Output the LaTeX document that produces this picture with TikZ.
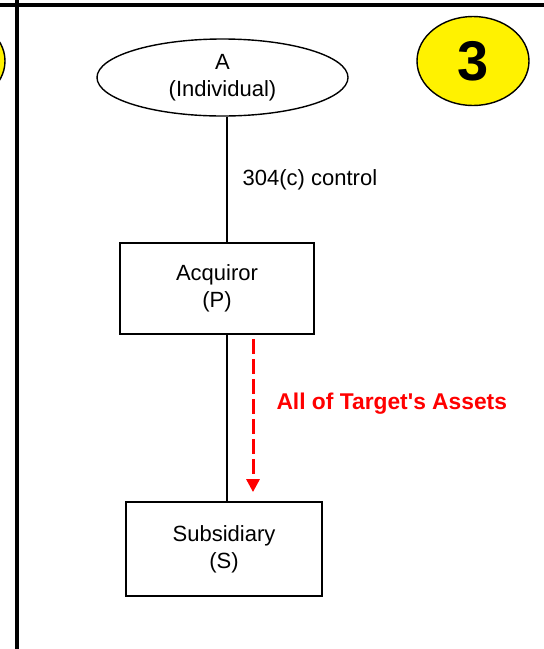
\documentclass[tikz,border=0pt]{standalone}
\usepackage{fontspec}
\setmainfont{Liberation Sans}
\usetikzlibrary{shapes.geometric, arrows.meta}

\begin{document}
\begin{tikzpicture}[
  x=0.5pt, y=-0.5pt,
  txt/.style={font=\fontsize{11}{13.5}\selectfont},
  ent/.style={draw, line width=0.9pt, inner sep=0pt, align=center, txt},
  indiv/.style={ellipse, draw, line width=0.7pt, minimum width=125.5pt,
                minimum height=38.5pt, inner sep=0pt, align=center, txt},
  badge/.style={ellipse, draw, fill=yellow, line width=0.7pt, minimum width=56pt,
                minimum height=44.5pt, inner sep=0pt,
                font=\bfseries\fontsize{28}{30}\selectfont},
  frame/.style={line width=2pt},
  link/.style={line width=0.7pt},
  asset/.style={-{Triangle[length=6.5pt, width=6.5pt]}, red, line width=1.5pt,
                dash pattern=on 7.5pt off 2.5pt}
]
  \useasboundingbox (0,0) rectangle (544,649);

  % panel frame
  \draw[frame] (0,5) -- (544,5);
  \draw[frame] (17,0) -- (17,649);

  \node[badge] (prevbadge) at (-51,61) {};
  \node[badge] (badge)     at (473,61) {3};

  \node[indiv] (owner) at (222.5,77.5) {A\\(Individual)};
  \node[ent, minimum width=97pt, minimum height=45.5pt] (acq) at (217,288.5) {Acquiror\\(P)};
  \node[ent, minimum width=98pt, minimum height=47pt]   (sub) at (224,549)   {Subsidiary\\(S)};

  \coordinate (spine) at (227,0);
  \coordinate (flow)  at (253,0);

  \draw[link] (owner.south -| spine) -- node[right=7.5pt, inner sep=0pt, txt]{304(c) control} (acq.north -| spine);
  \draw[link] (acq.south -| spine) -- (sub.north -| spine);
  \draw[asset] ([yshift=-2pt]acq.south -| flow) -- node[pos=0.42, right=11pt, inner sep=0pt, font=\bfseries\fontsize{11.4}{14}\selectfont]{All of Target\textquotesingle s Assets} ([yshift=4.5pt]sub.north -| flow);
\end{tikzpicture}
\end{document}
